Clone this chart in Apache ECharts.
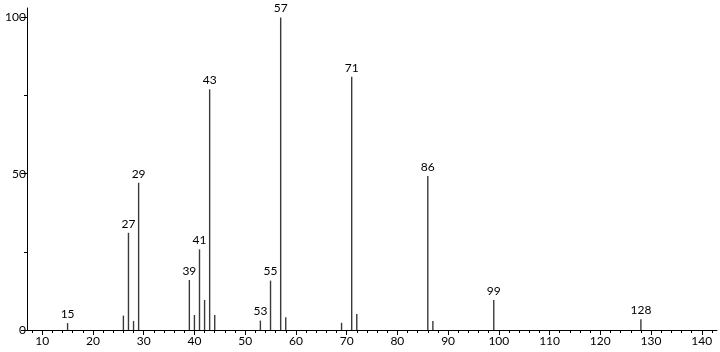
<!DOCTYPE html>
<html><head><meta charset="utf-8">
<script src="https://cdn.jsdelivr.net/npm/echarts@6/dist/echarts.min.js"></script>
<style>html,body{margin:0;padding:0;background:#fff}#c{width:720px;height:352px}</style>
</head><body><div id="c"></div>
<script>
const mz =        [15, 26, 27, 28, 29, 39, 40, 41, 42, 43, 44, 53, 55, 57, 58, 69, 71, 72, 86, 87, 99, 128];
const intensity = [2.2,4.6,31.1,2.9,47.1,16.0,4.8,25.8,9.6,77.0,4.8,3.0,15.8,100,4.1,2.3,81.0,5.1,49.3,2.9,9.6,3.4];
const labeled =   [15, 27, 29, 39, 41, 43, 53, 55, 57, 71, 86, 99, 128];
const xMajorTicks = [10,20,30,40,50,60,70,80,90,100,110,120,130,140];
const xMinorTicks = [];
for (let v = 8; v <= 142; v += 2) xMinorTicks.push(v);
const yMajorTicks = [0, 50, 100];
const yMinorTicks = [25, 75];

const FONT = 'Lato';
const chart = echarts.init(document.getElementById('c'));
const data = mz.map((m, i) => ({
  value: [m, intensity[i]],
  label: { show: labeled.includes(m) }
}));
chart.setOption({
  animation: false,
  grid: { left: 27, right: 3, top: 8, bottom: 22 },
  xAxis: [
    { type: 'value', min: 7, max: 143,
      axisLine: { onZero: false, lineStyle: { color: '#000', width: 1 } },
      axisTick: { customValues: xMajorTicks, length: 5, lineStyle: { color: '#000' } },
      axisLabel: { customValues: xMajorTicks, color: '#000', fontFamily: FONT, fontSize: 12, margin: 5 },
      splitLine: { show: false } },
    { type: 'value', min: 7, max: 143, position: 'bottom',
      axisLine: { show: false },
      axisTick: { customValues: xMinorTicks, length: 3, lineStyle: { color: '#000' } },
      axisLabel: { show: false }, splitLine: { show: false } }
  ],
  yAxis: [
    { type: 'value', min: 0, max: 103,
      axisLine: { show: true, lineStyle: { color: '#000', width: 1 } },
      axisTick: { show: true, customValues: yMajorTicks, length: 6, lineStyle: { color: '#000' } },
      axisLabel: { customValues: yMajorTicks, color: '#000', fontFamily: FONT, fontSize: 12, margin: 1 },
      splitLine: { show: false } },
    { type: 'value', min: 0, max: 103, position: 'left',
      axisLine: { show: false },
      axisTick: { show: true, customValues: yMinorTicks, length: 3, lineStyle: { color: '#000' } },
      axisLabel: { show: false }, splitLine: { show: false } }
  ],
  series: [{
    type: 'bar', xAxisIndex: 0, yAxisIndex: 0,
    barWidth: 1.4,
    itemStyle: { color: '#3a3a3a' },
    label: { position: 'top', distance: 3, color: '#000', fontFamily: FONT, fontSize: 12,
      formatter: p => String(p.value[0]) },
    data: data
  }]
});
</script></body></html>
